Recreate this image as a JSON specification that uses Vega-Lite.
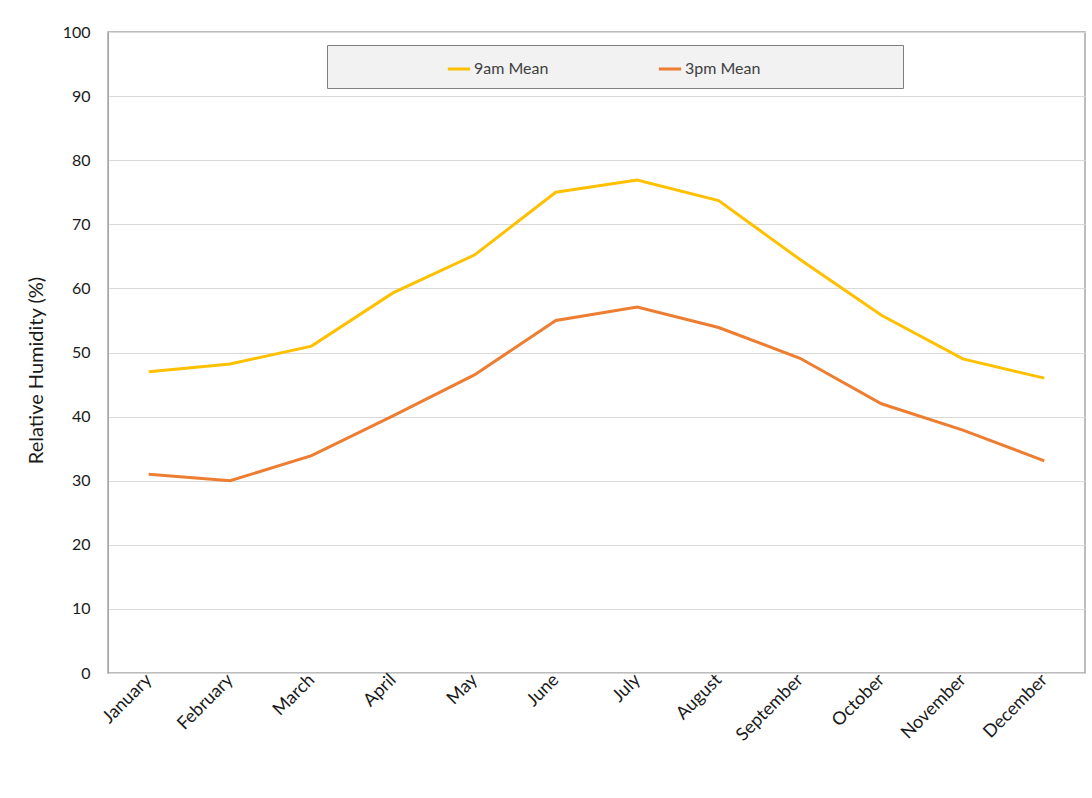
{
  "$schema": "https://vega.github.io/schema/vega-lite/v6.json",
  "width": 977,
  "height": 641,
  "autosize": {"type": "none"},
  "padding": {"left": 108, "top": 32, "right": 7, "bottom": 125},
  "background": "white",
  "config": {
    "font": "Lato",
    "view": {"stroke": "#a6a6a6", "strokeWidth": 1.5},
    "axis": {"labelFont": "Lato", "titleFont": "Lato", "labelColor": "#1a1a1a", "titleColor": "#1a1a1a"}
  },
  "data": {
    "values": [
      {"month": "January", "series": "9am Mean", "value": 47.0},
      {"month": "February", "series": "9am Mean", "value": 48.2},
      {"month": "March", "series": "9am Mean", "value": 51.0},
      {"month": "April", "series": "9am Mean", "value": 59.3},
      {"month": "May", "series": "9am Mean", "value": 65.2},
      {"month": "June", "series": "9am Mean", "value": 75.0},
      {"month": "July", "series": "9am Mean", "value": 76.9},
      {"month": "August", "series": "9am Mean", "value": 73.7},
      {"month": "September", "series": "9am Mean", "value": 64.5},
      {"month": "October", "series": "9am Mean", "value": 55.8},
      {"month": "November", "series": "9am Mean", "value": 49.0},
      {"month": "December", "series": "9am Mean", "value": 46.0},
      {"month": "January", "series": "3pm Mean", "value": 31.0},
      {"month": "February", "series": "3pm Mean", "value": 30.0},
      {"month": "March", "series": "3pm Mean", "value": 33.9},
      {"month": "April", "series": "3pm Mean", "value": 40.1},
      {"month": "May", "series": "3pm Mean", "value": 46.5},
      {"month": "June", "series": "3pm Mean", "value": 55.0},
      {"month": "July", "series": "3pm Mean", "value": 57.1},
      {"month": "August", "series": "3pm Mean", "value": 53.9},
      {"month": "September", "series": "3pm Mean", "value": 49.1},
      {"month": "October", "series": "3pm Mean", "value": 42.0},
      {"month": "November", "series": "3pm Mean", "value": 37.9},
      {"month": "December", "series": "3pm Mean", "value": 33.1}
    ]
  },
  "mark": {"type": "line", "strokeWidth": 3},
  "encoding": {
    "x": {
      "field": "month",
      "type": "ordinal",
      "sort": ["January","February","March","April","May","June","July","August","September","October","November","December"],
      "scale": {"type": "point", "padding": 0.5},
      "axis": {
        "title": null,
        "labelAngle": -45,
        "labelAlign": "right",
        "labelBaseline": "middle",
        "labelFontSize": 18,
        "labelPadding": 4,
        "ticks": false,
        "domain": false,
        "grid": false
      }
    },
    "y": {
      "field": "value",
      "type": "quantitative",
      "scale": {"domain": [0, 100]},
      "axis": {
        "title": "Relative Humidity (%)",
        "titleFontSize": 20,
        "titleFontWeight": "normal",
        "titlePadding": 16,
        "titleY": 338,
        "values": [0,10,20,30,40,50,60,70,80,90,100],
        "labelFontSize": 16,
        "labelPadding": 18,
        "ticks": false,
        "domain": true,
        "domainColor": "#a6a6a6",
        "grid": true,
        "gridColor": "#d9d9d9"
      }
    },
    "color": {
      "field": "series",
      "type": "nominal",
      "sort": ["9am Mean", "3pm Mean"],
      "scale": {"domain": ["9am Mean", "3pm Mean"], "range": ["#FFC000", "#ED7D31"]},
      "legend": {
        "orient": "none",
        "legendX": 219,
        "legendY": 13,
        "direction": "horizontal",
        "title": "\u00a0",
        "titleOrient": "right",
        "titlePadding": 132,
        "fillColor": "#f2f2f2",
        "strokeColor": "#7f7f7f",
        "padding": 11,
        "symbolOffset": 108,
        "symbolType": "stroke",
        "symbolStrokeWidth": 3,
        "symbolSize": 500,
        "labelOffset": 2,
        "labelFontSize": 16,
        "labelColor": "#404040",
        "columnPadding": 0
      }
    }
  }
}
